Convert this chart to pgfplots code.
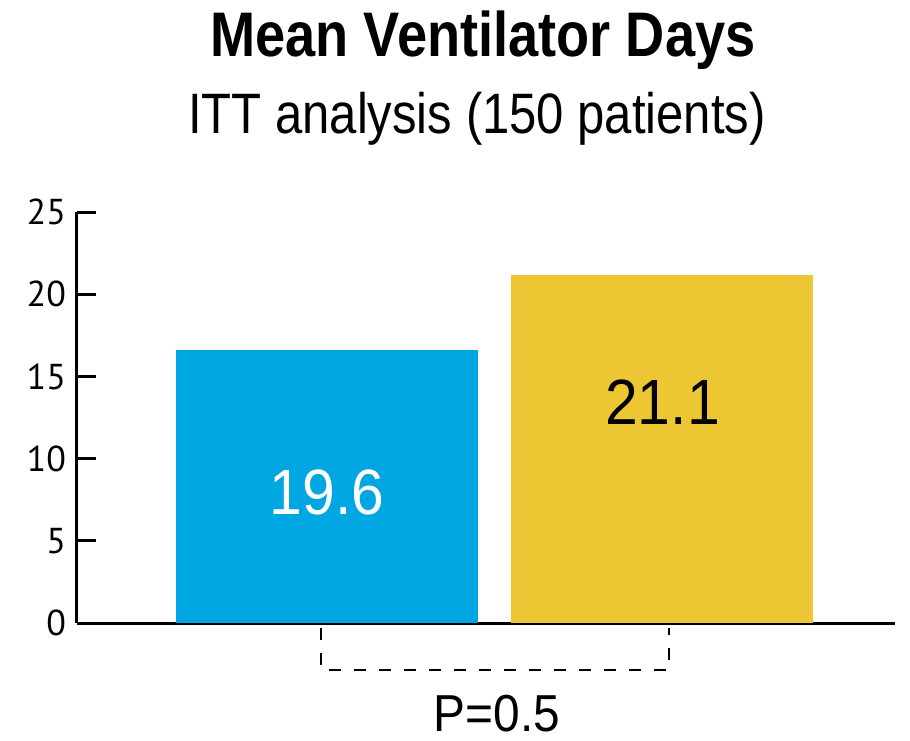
\documentclass[border=0pt]{standalone}
\usepackage{pgfplots}
\pgfplotsset{compat=1.18}
\usepackage{fontspec}
\setmainfont{Liberation Sans}
\newfontfamily\tickfont{PT Sans}
\newfontfamily\narrowfont[FakeStretch=0.86]{Liberation Sans}
\newfontfamily\semifont[FakeStretch=0.92]{Liberation Sans}
\definecolor{barblue}{RGB}{0,166,226}
\definecolor{baryellow}{RGB}{236,198,51}
\begin{document}
\begin{tikzpicture}
\useasboundingbox (-38.5pt,-58.5pt) rectangle (416.5pt,311.5pt);
\begin{axis}[
  at={(0,0)}, anchor=south west,
  scale only axis, width=409pt, height=205.5pt,
  xmin=0.255, xmax=2.693, ymin=0, ymax=25,
  axis x line=bottom, axis y line=left,
  axis line style={line width=1.5pt,-},
  xtick=\empty,
  ytick={0,5,10,15,20,25},
  tick align=inside,
  major tick length=9.5pt,
  tick style={line width=1.5pt,black},
  yticklabel style={font=\tickfont\fontsize{18}{20}\selectfont, xshift=-2pt},
  /pgf/number format/assume math mode=true,
  ybar, bar width=151pt,
  clip=false,
]
\addplot[fill=barblue, draw=none, bar shift=0pt] coordinates {(1,16.6)};
\addplot[fill=baryellow, draw=none, bar shift=0pt] coordinates {(2,21.15)};
\node[text=white, font=\semifont\fontsize{32}{34}\selectfont] at (axis cs:1,7.95) {19.6};
\node[text=black, font=\semifont\fontsize{32}{34}\selectfont] at (axis cs:2,13.45) {21.1};
\draw[line width=1.1pt, dash pattern=on 6pt off 6.5pt] (axis cs:0.982,-0.3) |- (axis cs:2.019,-2.86) -- (axis cs:2.019,-0.3);
\end{axis}
\node[font=\narrowfont\bfseries\fontsize{31.5}{33}\selectfont] at (203pt,291.5pt) {Mean Ventilator Days};
\node[font=\narrowfont\fontsize{28.5}{30}\selectfont] at (200pt,252pt) {ITT analysis (150 patients)};
\node[font=\semifont\fontsize{26}{28}\selectfont] at (210pt,-45.5pt) {P=0.5};
\end{tikzpicture}
\end{document}
